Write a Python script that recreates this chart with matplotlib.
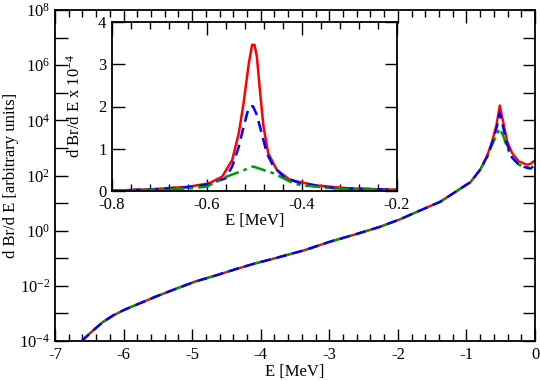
import numpy as np
import matplotlib
matplotlib.use("Agg")
import matplotlib.pyplot as plt
from matplotlib.ticker import FixedLocator, MultipleLocator, FuncFormatter, NullFormatter

plt.rcParams['font.family'] = ['Liberation Serif', 'DejaVu Serif']
plt.rcParams['mathtext.fontset'] = 'custom'
plt.rcParams['mathtext.rm'] = 'Liberation Serif'
plt.rcParams['mathtext.it'] = 'Liberation Serif:italic'
plt.rcParams['axes.unicode_minus'] = False

# ---------------- main panel data (log10 of dBr/dE) ----------------
E_main = [-6.62, -6.45, -6.3, -6.15, -5.98, -5.75, -5.54, -5.25, -4.96, -4.65,
          -4.37, -4.1, -3.79, -3.35, -2.99, -2.6, -2.26, -1.96, -1.77, -1.38,
          -1.09, -0.94, -0.80, -0.70, -0.625, -0.562, -0.514, -0.465, -0.406,
          -0.333, -0.236, -0.114, -0.066, 0.0]
common = [-4.02, -3.63, -3.31, -3.07, -2.86, -2.62, -2.40, -2.12, -1.85, -1.62,
          -1.40, -1.20, -1.00, -0.70, -0.40, -0.12, 0.14, 0.42, 0.63, 1.05,
          1.52, 1.76, 2.21]
logy_red = common + [2.70, 3.24, 3.84, 4.54, 3.96, 3.24, 2.81, 2.51, 2.39, 2.42, 2.55]
logy_blue = common + [2.68, 3.18, 3.70, 4.27, 3.75, 3.12, 2.66, 2.39, 2.27, 2.25, 2.38]
logy_green = common + [2.64, 3.12, 3.45, 3.70, 3.45, 3.00, 2.63, 2.39, 2.30, 2.30, 2.36]

main_xticks = [-7, -6, -5, -4, -3, -2, -1, 0]
main_yexp = [-4, -2, 0, 2, 4, 6, 8]

# ---------------- inset data (x 1e-4) ----------------
E_in_red = [-0.8, -0.716, -0.639, -0.596, -0.568, -0.547, -0.533, -0.523, -0.512,
            -0.505, -0.5, -0.495, -0.488, -0.481, -0.471, -0.453, -0.425, -0.369,
            -0.299, -0.2]
in_red = [0.01, 0.04, 0.10, 0.18, 0.34, 0.73, 1.37, 2.08, 3.02, 3.46, 3.46, 3.18,
          2.31, 1.52, 0.89, 0.50, 0.26, 0.13, 0.06, 0.03]
E_in_blue = [-0.8, -0.716, -0.639, -0.6, -0.561, -0.547, -0.533, -0.523, -0.512,
             -0.505, -0.503, -0.495, -0.485, -0.474, -0.46, -0.439, -0.404,
             -0.334, -0.2]
in_blue = [0.01, 0.04, 0.09, 0.15, 0.30, 0.58, 1.05, 1.52, 1.98, 2.01, 2.0, 1.80,
           1.37, 0.89, 0.58, 0.34, 0.18, 0.07, 0.03]
E_in_green = [-0.8, -0.716, -0.639, -0.601, -0.559, -0.53, -0.503, -0.46, -0.425,
              -0.404, -0.334, -0.2]
in_green = [0.01, 0.03, 0.06, 0.10, 0.34, 0.46, 0.58, 0.42, 0.22, 0.14, 0.06, 0.02]

inset_xticks = [-0.8, -0.6, -0.4, -0.2]
inset_yticks = [0, 1, 2, 3, 4]

RED, BLUE, GREEN = '#ff0000', '#0000ff', '#009a00'
DASH = (0, (4.5, 2.5))
DASHDOT = (0, (6, 2, 1.5, 2))

fig = plt.figure(figsize=(5.40, 3.81), dpi=100)
ax = fig.add_axes([55/540, 1-341/381, 480/540, 331/381])

ax.plot(E_main, 10**np.array(logy_red), color=RED, lw=1.7, ls='-', zorder=2)
ax.plot(E_main, 10**np.array(logy_green), color=GREEN, lw=1.7, ls=DASHDOT, zorder=3)
ax.plot(E_main, 10**np.array(logy_blue), color=BLUE, lw=1.7, ls=DASH, zorder=4)

ax.set_yscale('log')
ax.set_xlim(-7, 0)
ax.set_ylim(1e-4, 1e8)
ax.xaxis.set_major_locator(FixedLocator(main_xticks))
ax.xaxis.set_minor_locator(MultipleLocator(0.2))
ax.yaxis.set_major_locator(FixedLocator([10.0**e for e in main_yexp]))
ax.yaxis.set_minor_locator(FixedLocator([10.0**e for e in range(-3, 8, 2)]))
ax.yaxis.set_minor_formatter(NullFormatter())
ax.yaxis.set_major_formatter(FuncFormatter(lambda v, p: r'$10^{%d}$' % int(round(np.log10(v)))))
ax.xaxis.set_major_formatter(FuncFormatter(lambda v, p: '%d' % int(round(v))))
ax.tick_params(which='both', direction='in', top=True, right=True, labelsize=12, width=1)
ax.tick_params(which='major', length=9)
ax.tick_params(which='minor', length=5)
ax.tick_params(axis='y', which='minor', length=9)
ax.tick_params(axis='x', pad=4)
for s in ax.spines.values():
    s.set_linewidth(1.3)
ax.set_xlabel('E [MeV]', fontsize=12, labelpad=1)
ax.set_ylabel('d Br/d E [arbitrary units]', fontsize=12)
ax.yaxis.set_label_coords(-0.074, 0.5)

# inset
ai = fig.add_axes([112/540, 1-191/381, 285/540, 169/381])
ai.plot(E_in_red, in_red, color=RED, lw=1.8, ls='-')
ai.plot(E_in_blue, in_blue, color=BLUE, lw=1.8, ls=DASH)
ai.plot(E_in_green, in_green, color=GREEN, lw=1.8, ls=DASHDOT)
ai.set_xlim(-0.8, -0.2)
ai.set_ylim(0, 4)
ai.xaxis.set_major_locator(FixedLocator(inset_xticks))
ai.xaxis.set_minor_locator(MultipleLocator(0.04))
ai.yaxis.set_major_locator(FixedLocator(inset_yticks))
ai.xaxis.set_major_formatter(FuncFormatter(lambda v, p: '%g' % v))
ai.yaxis.set_major_formatter(FuncFormatter(lambda v, p: '%d' % int(round(v))))
ai.tick_params(which='both', direction='in', top=True, right=True, labelsize=12, width=1)
ai.tick_params(which='major', length=9)
ai.tick_params(axis='y', which='major', pad=4)
ai.tick_params(axis='x', which='major', pad=4)
ai.tick_params(which='minor', length=5)
for s in ai.spines.values():
    s.set_linewidth(1.3)
ai.set_xlabel('E [MeV]', fontsize=12, labelpad=0)
ai.set_ylabel(r'd Br/d E x 10$^{-4}$', fontsize=12)
ai.yaxis.set_label_coords(-0.098, 0.5)

fig.savefig('out.png', dpi=100)
